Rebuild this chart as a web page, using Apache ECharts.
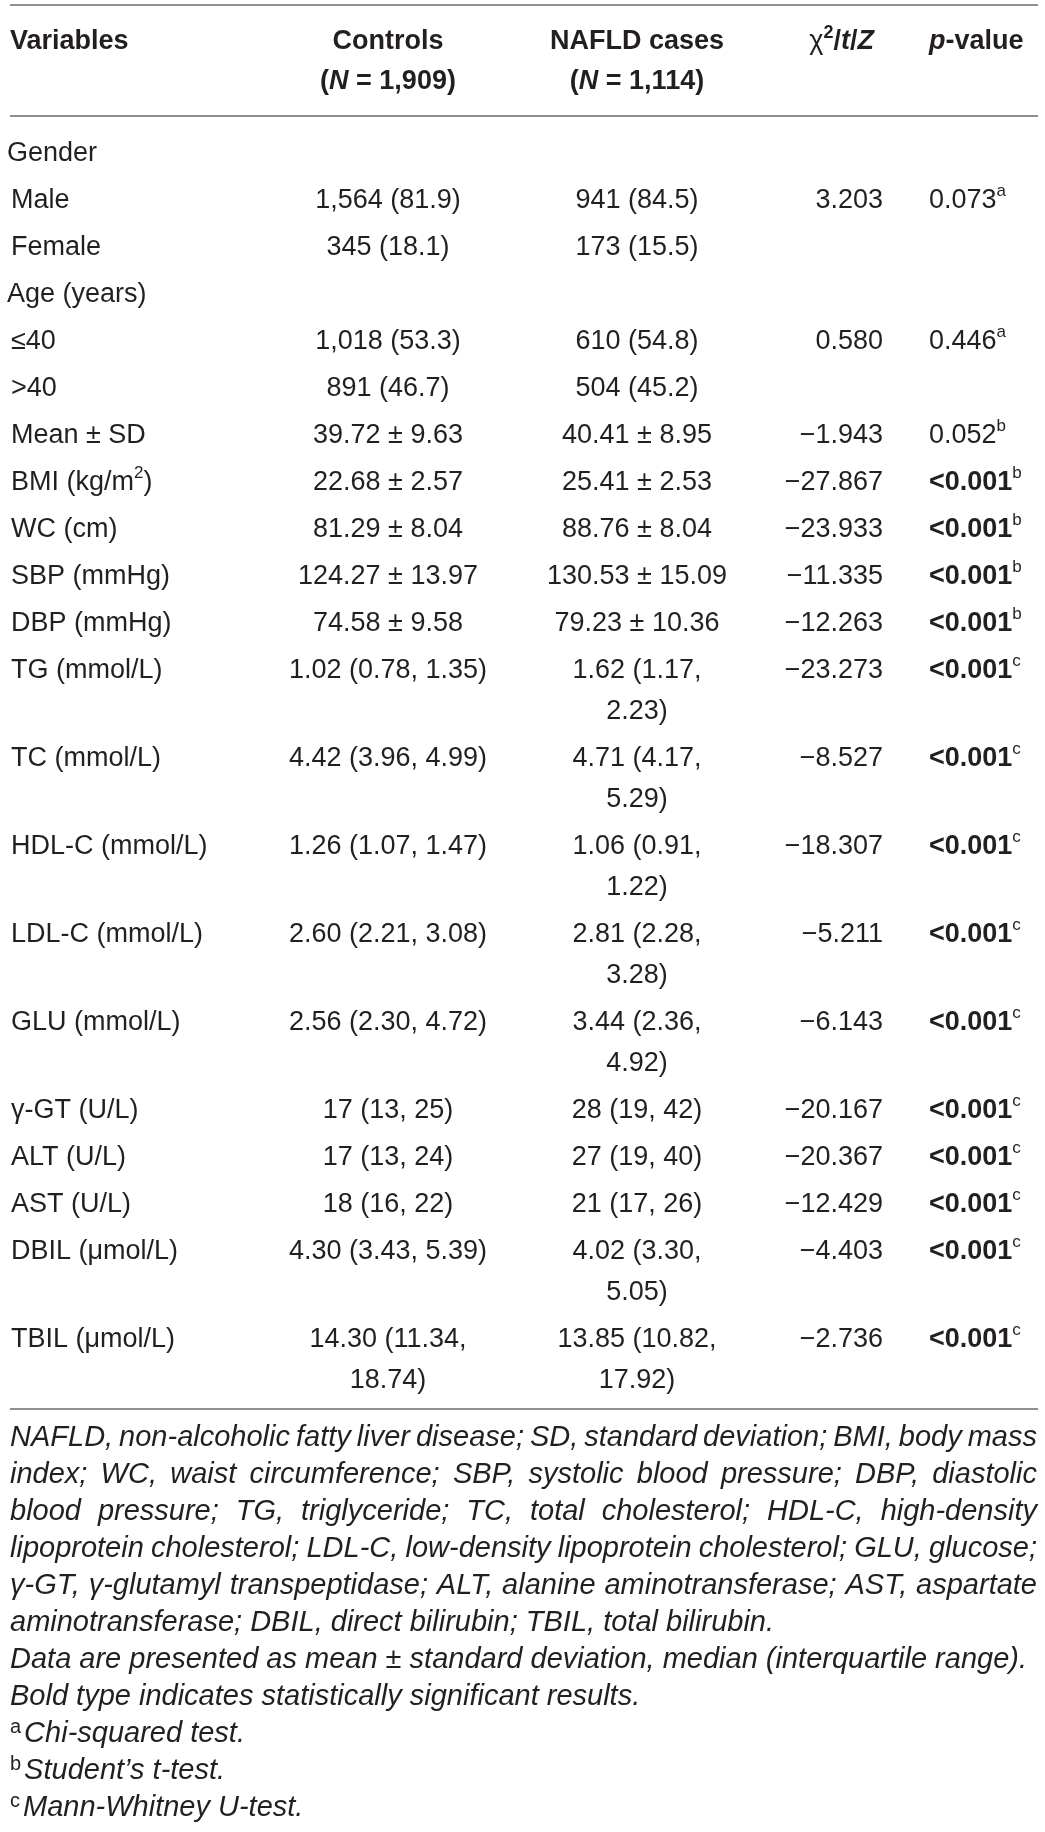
<!DOCTYPE html>
<html>
<head>
<meta charset="utf-8">
<script src="https://cdn.jsdelivr.net/npm/echarts@6/dist/echarts.min.js"></script>
<style>
html, body { margin: 0; padding: 0; background: #fff; }
#main { width: 1045px; height: 1832px; }
</style>
</head>
<body>
<div id="main"></div>
<script>
// table content
var variables = ['Gender', 'Male', 'Female', 'Age (years)', '\u226440', '>40', 'Mean \u00b1 SD',
  'BMI (kg/m{sup|2})', 'WC (cm)', 'SBP (mmHg)', 'DBP (mmHg)', 'TG (mmol/L)', 'TC (mmol/L)',
  'HDL-C (mmol/L)', 'LDL-C (mmol/L)', 'GLU (mmol/L)', '\u03b3-GT (U/L)', 'ALT (U/L)', 'AST (U/L)',
  'DBIL (\u03bcmol/L)', 'TBIL (\u03bcmol/L)'];
var groupRows = ['Gender', 'Age (years)'];
var controls = ['', '1,564 (81.9)', '345 (18.1)', '', '1,018 (53.3)', '891 (46.7)', '39.72 \u00b1 9.63',
  '22.68 \u00b1 2.57', '81.29 \u00b1 8.04', '124.27 \u00b1 13.97', '74.58 \u00b1 9.58', '1.02 (0.78, 1.35)',
  '4.42 (3.96, 4.99)', '1.26 (1.07, 1.47)', '2.60 (2.21, 3.08)', '2.56 (2.30, 4.72)', '17 (13, 25)',
  '17 (13, 24)', '18 (16, 22)', '4.30 (3.43, 5.39)', '14.30 (11.34,\n18.74)'];
var cases = ['', '941 (84.5)', '173 (15.5)', '', '610 (54.8)', '504 (45.2)', '40.41 \u00b1 8.95',
  '25.41 \u00b1 2.53', '88.76 \u00b1 8.04', '130.53 \u00b1 15.09', '79.23 \u00b1 10.36', '1.62 (1.17,\n2.23)',
  '4.71 (4.17,\n5.29)', '1.06 (0.91,\n1.22)', '2.81 (2.28,\n3.28)', '3.44 (2.36,\n4.92)', '28 (19, 42)',
  '27 (19, 40)', '21 (17, 26)', '4.02 (3.30,\n5.05)', '13.85 (10.82,\n17.92)'];
var stats = ['', '3.203', '', '', '0.580', '', '\u22121.943', '\u221227.867', '\u221223.933', '\u221211.335',
  '\u221212.263', '\u221223.273', '\u22128.527', '\u221218.307', '\u22125.211', '\u22126.143', '\u221220.167',
  '\u221220.367', '\u221212.429', '\u22124.403', '\u22122.736'];
var pValues = ['', '0.073', '', '', '0.446', '', '0.052', '<0.001', '<0.001', '<0.001', '<0.001', '<0.001',
  '<0.001', '<0.001', '<0.001', '<0.001', '<0.001', '<0.001', '<0.001', '<0.001', '<0.001'];
var pTests = ['', 'a', '', '', 'a', '', 'b', 'b', 'b', 'b', 'b', 'c', 'c', 'c', 'c', 'c', 'c', 'c', 'c', 'c', 'c'];
var headers = ['{hb|Variables}', '{hb|Controls}\n{hb|(}{hbi|N}{hb| = 1,909)}',
  '{hb|NAFLD cases}\n{hb|(}{hbi|N}{hb| = 1,114)}', '{chi|\u03c7}{hsup|2}{hb|/}{hbi|t}{hb|/}{hbi|Z}',
  '{hbi|p}{hb|-value}'];
var footnoteLines = [
  'NAFLD, non-alcoholic fatty liver disease; SD, standard deviation; BMI, body mass',
  'index; WC, waist circumference; SBP, systolic blood pressure; DBP, diastolic',
  'blood pressure; TG, triglyceride; TC, total cholesterol; HDL-C, high-density',
  'lipoprotein cholesterol; LDL-C, low-density lipoprotein cholesterol; GLU, glucose;',
  '\u03b3-GT, \u03b3-glutamyl transpeptidase; ALT, alanine aminotransferase; AST, aspartate',
  'aminotransferase; DBIL, direct bilirubin; TBIL, total bilirubin.',
  'Data are presented as mean \u00b1 standard deviation, median (interquartile range).',
  'Bold type indicates statistically significant results.',
  'Chi-squared test.',
  'Student\u2019s t-test.',
  'Mann-Whitney U-test.'];
var footnoteMarks = ['', '', '', '', '', '', '', '', 'a', 'b', 'c'];
var footnoteJustify = [1, 1, 1, 1, 1, 0, 0, 0, 0, 0, 0];

// layout
var W = 1045, H = 1832;
var FONT = '"Liberation Sans", Arial, Helvetica, sans-serif';
var SIZE = 27;
var INK = '#231f20';
var colX = [11, 388, 637, 883, 929];
var colAlign = ['left', 'center', 'center', 'right', 'left'];
var ROW_H = 47, LINE_H = 41, BODY_TOP = 130;
var HEAD_Y = [42, 82];
var RULES = [5, 116, 1409];
var FOOT_Y = 1438, FOOT_STEP = 37, FOOT_L = 10, FOOT_R = 1037;

var rich = {
  hb: { fontFamily: FONT, fontSize: SIZE, fontWeight: 'bold', fill: INK, lineHeight: 36 },
  hbi: { fontFamily: FONT, fontSize: SIZE, fontWeight: 'bold', fontStyle: 'italic', fill: INK, lineHeight: 36 },
  chi: { fontFamily: FONT, fontSize: SIZE, fill: INK, lineHeight: 36 },
  hsup: { fontFamily: FONT, fontSize: 18, fontWeight: 'bold', fill: INK, verticalAlign: 'top' },
  pb: { fontFamily: FONT, fontSize: SIZE, fontWeight: 'bold', fill: INK, lineHeight: 36 },
  sup: { fontFamily: FONT, fontSize: 17, fill: INK, verticalAlign: 'top' }
};

var cells = [];
// header cells
headers.forEach(function (h, c) {
  h.split('\n').forEach(function (line, k) {
    cells.push({ x: c === 0 ? 10 : (c === 3 ? 874 : colX[c]), y: HEAD_Y[k], text: line, align: colAlign[c] });
  });
});
// body cells
var rowTop = BODY_TOP;
variables.forEach(function (v, i) {
  var pText = pValues[i] ? (pValues[i].charAt(0) === '<' ? '{pb|' + pValues[i] + '}' : pValues[i]) : '';
  if (pText && pTests[i]) pText += '{sup|' + pTests[i] + '}';
  var row = [v, controls[i], cases[i], stats[i], pText];
  var lines = 1;
  row.forEach(function (t, c) {
    if (!t) return;
    var parts = t.split('\n');
    lines = Math.max(lines, parts.length);
    parts.forEach(function (line, k) {
      var x = colX[c];
      if (c === 0 && groupRows.indexOf(v) >= 0) x = 7;
      cells.push({ x: x, y: rowTop + ROW_H / 2 + k * LINE_H, text: line, align: colAlign[c] });
    });
  });
  rowTop += ROW_H + (lines - 1) * LINE_H;
});

// footnotes, justified like the printed table
var ctx = document.createElement('canvas').getContext('2d');
function measure(s, size) {
  ctx.font = 'italic ' + size + 'px "Liberation Sans"';
  return ctx.measureText(s).width;
}
var fnSize = SIZE * (FOOT_R - FOOT_L) / measure(footnoteLines[6], SIZE);
fnSize = Math.max(24, Math.min(29, fnSize));
var graphics = [];
RULES.forEach(function (y) {
  graphics.push({ type: 'line', shape: { x1: 10, y1: y, x2: 1038, y2: y }, style: { stroke: '#8e8e8e', lineWidth: 2 }, silent: true });
});
var fnStyle = { fontFamily: FONT, fontSize: fnSize, fontStyle: 'italic', fill: INK };
footnoteLines.forEach(function (line, i) {
  var y = FOOT_Y + i * FOOT_STEP;
  if (footnoteJustify[i]) {
    var words = line.split(' ');
    var total = 0;
    words.forEach(function (w) { total += measure(w, fnSize); });
    var gap = (FOOT_R - FOOT_L - total) / (words.length - 1);
    var x = FOOT_L;
    words.forEach(function (w) {
      graphics.push({ type: 'text', x: x, y: y, style: echarts.util.extend({ text: w, align: 'left', verticalAlign: 'middle' }, fnStyle), silent: true });
      x += measure(w, fnSize) + gap;
    });
  } else if (footnoteMarks[i]) {
    graphics.push({ type: 'text', x: FOOT_L, y: y, silent: true, style: {
      text: '{m|' + footnoteMarks[i] + '}{t|' + line + '}', align: 'left', verticalAlign: 'middle',
      rich: {
        m: { fontFamily: FONT, fontSize: 20, fill: INK, verticalAlign: 'top', padding: [0, 3, 0, 0] },
        t: echarts.util.extend({ lineHeight: 34 }, fnStyle)
      }
    } });
  } else {
    graphics.push({ type: 'text', x: FOOT_L, y: y, style: echarts.util.extend({ text: line, align: 'left', verticalAlign: 'middle' }, fnStyle), silent: true });
  }
});

var chart = echarts.init(document.getElementById('main'), null, { renderer: 'canvas' });
chart.setOption({
  animation: false,
  backgroundColor: '#fff',
  grid: { left: 0, right: 0, top: 0, bottom: 0 },
  xAxis: { type: 'value', min: 0, max: W, show: false },
  yAxis: { type: 'value', min: 0, max: H, inverse: true, show: false },
  graphic: graphics,
  series: [{
    type: 'custom',
    silent: true,
    data: cells.map(function (c) { return [c.x, c.y]; }),
    renderItem: function (params, api) {
      var c = cells[params.dataIndex];
      var pt = api.coord([api.value(0), api.value(1)]);
      return {
        type: 'text',
        x: pt[0],
        y: pt[1],
        style: {
          text: c.text,
          rich: rich,
          fontFamily: FONT,
          fontSize: SIZE,
          lineHeight: 36,
          fill: INK,
          align: c.align,
          verticalAlign: 'middle'
        }
      };
    }
  }]
});
</script>
</body>
</html>
